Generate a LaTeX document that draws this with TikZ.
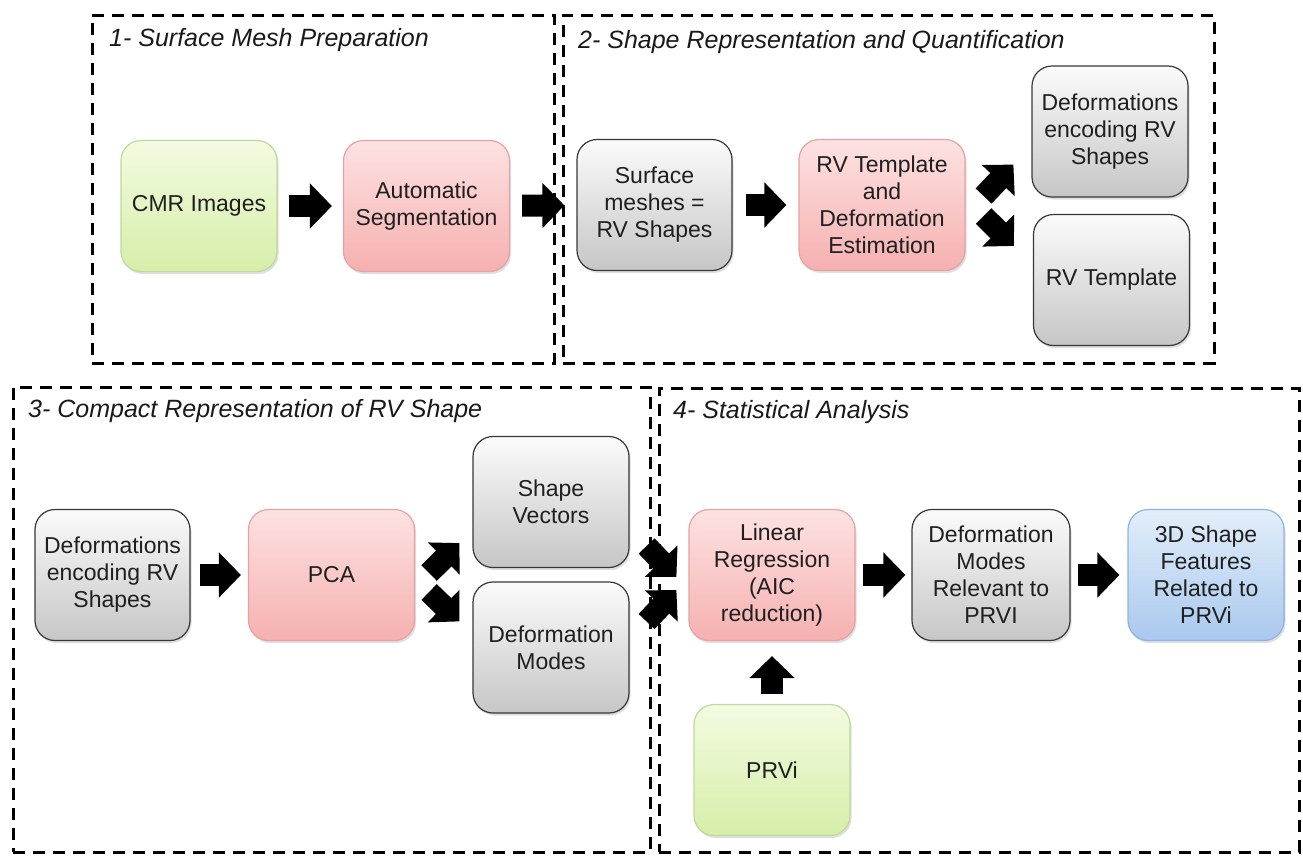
\documentclass[tikz,border=0pt]{standalone}
\usepackage{fontspec}
\setmainfont{Liberation Sans}
\usetikzlibrary{arrows.meta,shadows}

\definecolor{greentop}{HTML}{F3FBE1}
\definecolor{greenbot}{HTML}{D6EEA8}
\definecolor{greenline}{HTML}{BFD99A}
\definecolor{redtop}{HTML}{FDE2E2}
\definecolor{redbot}{HTML}{F6B0B0}
\definecolor{redline}{HTML}{E4A2A2}
\definecolor{graytop}{HTML}{FBFBFB}
\definecolor{graybot}{HTML}{C6C6C6}
\definecolor{bluetop}{HTML}{E3EEFA}
\definecolor{bluebot}{HTML}{A9C8EE}
\definecolor{blueline}{HTML}{8FB2DF}

\tikzstyle{stage} = [draw, rounded corners=20pt, minimum width=156pt, minimum height=131pt, align=center, inner sep=2pt, font=\fontsize{23}{27}\selectfont, text=black!88, line width=1.2pt, drop shadow={shadow xshift=1.5pt, shadow yshift=-2.5pt, opacity=0.25}]
\tikzstyle{graystage} = [stage, draw=black!78, top color=graytop, bottom color=graybot]
\tikzstyle{redstage} = [stage, minimum width=166pt, draw=redline, top color=redtop, bottom color=redbot]
\tikzstyle{greenstage} = [stage, draw=greenline, top color=greentop, bottom color=greenbot]
\tikzstyle{bluestage} = [stage, draw=blueline, top color=bluetop, bottom color=bluebot]
\tikzstyle{panel} = [draw, line width=3pt, dash pattern=on 12pt off 8pt, inner sep=0pt, outer sep=0pt, anchor=north west]
\tikzstyle{paneltitle} = [font=\fontsize{25}{30}\selectfont\itshape, text=black!90, anchor=west, inner sep=0pt]
\tikzstyle{blockarr} = [line width=22pt, -{Triangle[length=22pt,width=44pt]}]

\begin{document}
\begin{tikzpicture}[x=1pt,y=-1pt]
	\useasboundingbox (0,0) rectangle (1303,855);

	\node [panel, minimum width=462pt, minimum height=348pt] (p1) at (92,15) {};
	\node [panel, minimum width=651pt, minimum height=348pt] (p2) at (563,15) {};
	\node [panel, minimum width=637pt, minimum height=465pt] (p3) at (13,387) {};
	\node [panel, minimum width=640pt, minimum height=464pt] (p4) at (659,388) {};

	\node [paneltitle] (t1) at ([shift={(17,25)}]p1.north west) {1- Surface Mesh Preparation};
	\node [paneltitle] (t2) at ([shift={(15,27)}]p2.north west) {2- Shape Representation and Quantification};
	\node [paneltitle] (t3) at ([shift={(15,24)}]p3.north west) {3- Compact Representation of RV Shape};
	\node [paneltitle] (t4) at ([shift={(14,24)}]p4.north west) {4- Statistical Analysis};

	\node [greenstage] (cmr) at (199,206) {CMR Images};
	\node [redstage] (seg) at (426.5,206) {Automatic\\Segmentation};
	\node [graystage, minimum width=155pt] (mesh) at (654.5,205) {Surface\\meshes =\\RV Shapes};
	\node [redstage] (rvt) at (882,205) {RV Template\\and\\Deformation\\Estimation};
	\node [graystage] (defenc) at (1110,131.5) {Deformations\\encoding RV\\Shapes};
	\node [graystage] (tmpl) at (1111.5,280) {RV Template};

	\node [graystage, minimum width=155pt] (defin) at (112.5,575) {Deformations\\encoding RV\\Shapes};
	\node [redstage] (pca) at (331.5,575) {PCA};
	\node [graystage] (svec) at (551,502) {Shape\\Vectors};
	\node [graystage] (dmodes) at (551,647.5) {Deformation\\Modes};
	\node [redstage] (linreg) at (772,575) {Linear\\Regression\\(AIC\\reduction)};
	\node [graystage, minimum width=158pt] (relev) at (991,575) {Deformation\\Modes\\Relevant to\\PRVI};
	\node [bluestage] (feat) at (1206,575) {3D Shape\\Features\\Related to\\PRVi};
	\node [greenstage] (prvi) at (772,770) {PRVi};

	\draw [blockarr, shorten <=11pt, shorten >=11pt] (cmr) -- (seg);
	\draw [blockarr, shorten <=12pt, shorten >=12pt] (seg) -- (mesh);
	\draw [blockarr, shorten <=13pt, shorten >=12pt] (mesh) -- (rvt);
	\draw [blockarr] ([shift={(18,-9)}]rvt.east) -- ([shift={(-18,-33)}]defenc.south west);
	\draw [blockarr] ([shift={(18,11)}]rvt.east) -- ([shift={(-19,32)}]tmpl.north west);

	\draw [blockarr, shorten <=9pt, shorten >=7pt] (defin) -- (pca);
	\draw [blockarr] ([shift={(14,-2)}]pca.east) -- ([shift={(-13,-25)}]svec.south west);
	\draw [blockarr] ([shift={(14,17)}]pca.east) -- ([shift={(-13,40)}]dmodes.north west);
	\draw [blockarr] ([shift={(17,44)}]svec.east) -- ([shift={(-12,2)}]linreg.west);
	\draw [blockarr] ([shift={(17,-26)}]dmodes.east) -- ([shift={(-12,15)}]linreg.west);
	\draw [blockarr, shorten <=7pt, shorten >=6pt] (linreg) -- (relev);
	\draw [blockarr, shorten <=7pt, shorten >=8pt] (relev) -- (feat);
	\draw [blockarr, shorten <=10pt, shorten >=15pt] (prvi) -- (linreg);
\end{tikzpicture}
\end{document}
